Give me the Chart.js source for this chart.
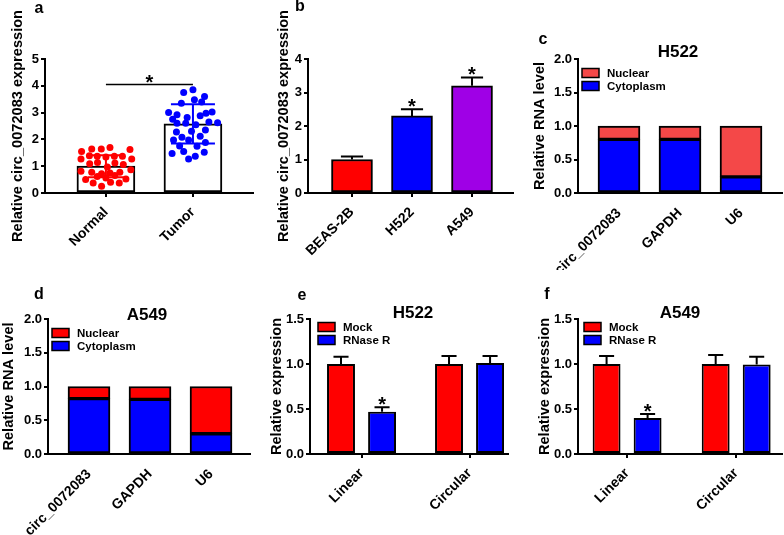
<!DOCTYPE html>
<html>
<head>
<meta charset="utf-8">
<script src="https://cdn.jsdelivr.net/npm/chart.js@4.4.1/dist/chart.umd.min.js"></script>
<style>
  body { margin: 0; background: #fff; width: 784px; height: 535px; position: relative; overflow: hidden; }
  canvas { position: absolute; }
</style>
</head>
<body>
<canvas id="panelA" width="260" height="270" style="left:0;top:0"></canvas>
<canvas id="panelB" width="260" height="270" style="left:255px;top:0"></canvas>
<canvas id="panelC" width="274" height="270" style="left:510px;top:0"></canvas>
<canvas id="panelD" width="260" height="265" style="left:0;top:270px"></canvas>
<canvas id="panelE" width="260" height="265" style="left:255px;top:270px"></canvas>
<canvas id="panelF" width="274" height="265" style="left:510px;top:270px"></canvas>
<script>
// ---- a: tissue samples (jitter = horizontal spread inside the bar, in bar half-widths)
const tissueGroups = ['Normal', 'Tumor'];
const normalValues = [1.55, 1.64, 1.64, 1.70, 1.62, 1.27, 1.39, 1.37, 1.34, 1.37, 1.37, 1.27,
  1.09, 1.14, 0.97, 1.12, 1.06, 0.81, 0.77, 0.72, 0.75, 0.77, 0.87,
  0.50, 0.62, 0.56, 0.65, 0.52, 0.37, 0.25, 0.40, 0.37];
const normalJitter = [-0.84, -0.49, -0.16, 0.14, 0.83, -0.86, -0.57, -0.30, 0.0, 0.29, 0.57, 0.89,
  -0.56, -0.29, 0.05, 0.31, 0.60, -0.86, -0.49, -0.15, 0.14, 0.48, 0.86,
  -0.70, -0.30, 0.0, 0.31, 0.69, -0.44, -0.15, 0.16, 0.46];
const tumorValues = [3.85, 3.75, 3.60, 3.48, 3.35, 3.40, 3.00, 2.92, 3.02, 2.88, 2.82, 2.75, 2.98,
  2.60, 2.55, 2.65, 2.62, 2.60, 2.28, 2.35, 2.30, 2.08, 1.98, 2.12, 1.98,
  1.75, 1.74, 1.88, 1.47, 1.55, 1.37, 1.52, 1.27];
const tumorJitter = [0.0, -0.32, 0.40, 0.05, -0.40, 0.30, -0.84, -0.55, 0.66, 0.25, -0.20, -0.70, 0.45,
  -0.55, 0.10, 0.55, 0.85, -0.25, -0.57, 0.43, -0.05, -0.38, -0.15, 0.25, -0.67,
  -0.46, 0.14, 0.43, -0.72, -0.32, 0.08, 0.39, -0.15];
const tissueMeans = [1.0, 2.58];
const tissueSD = [0.41, 0.73];

// ---- b: cell lines
const cellLines = ['BEAS-2B', 'H522', 'A549'];
const cellMeans = [1.0, 2.3, 3.2];
const cellErr = [0.09, 0.2, 0.25];
const cellSig = [false, true, true];

// ---- c, d: nuclear / cytoplasm fractions
const fractionGenes = ['circ_0072083', 'GAPDH', 'U6'];
const h522Cyto = [0.80, 0.80, 0.24];
const h522Nuclear = [0.20, 0.20, 0.76];
const a549Cyto = [0.82, 0.81, 0.30];
const a549Nuclear = [0.18, 0.19, 0.70];

// ---- e, f: RNase R
const rnaForms = ['Linear', 'Circular'];
const h522Mock = [1.0, 1.0];
const h522MockErr = [0.08, 0.09];
const h522RNase = [0.47, 1.01];
const h522RNaseErr = [0.05, 0.08];
const a549Mock = [1.0, 1.0];
const a549MockErr = [0.09, 0.10];
const a549RNase = [0.40, 0.995];
const a549RNaseErr = [0.045, 0.085];
const rnaseSig = [true, false];

const FONT = "'Liberation Sans', Arial, Helvetica, sans-serif";
Chart.defaults.font.family = FONT;
Chart.defaults.font.weight = 'bold';
Chart.defaults.color = '#000';
Chart.defaults.animation = false;
Chart.defaults.plugins.legend.display = false;
Chart.defaults.plugins.tooltip.enabled = false;

const RED = '#ff0000';
const BLUE = '#0000ff';

function drawStar(ctx, x, cy) {
  ctx.font = 'bold 20px ' + FONT;
  ctx.textAlign = 'center';
  ctx.textBaseline = 'alphabetic';
  ctx.fillStyle = '#000';
  ctx.fillText('*', x, cy + 11);
}

// error bars, stars, legend, titles
const extras = {
  id: 'extras',
  afterDatasetsDraw(chart, args, o) {
    const ctx = chart.ctx;
    const xs = chart.scales.x, ys = chart.scales.y;
    ctx.save();
    ctx.lineWidth = 2;

    (o.spread || []).forEach(s => {
      s.means.forEach((m, i) => {
        const cx = xs.getPixelForValue(i);
        const top = ys.getPixelForValue(m + s.sd[i]);
        const bot = ys.getPixelForValue(m - s.sd[i]);
        const half = s.caps[i] / 2;
        ctx.strokeStyle = s.colors[i];
        ctx.beginPath();
        ctx.moveTo(cx, top); ctx.lineTo(cx, bot);
        ctx.moveTo(cx - half, top); ctx.lineTo(cx + half, top);
        ctx.moveTo(cx - half, bot); ctx.lineTo(cx + half, bot);
        ctx.stroke();
      });
    });

    (o.errUp || []).forEach(e => {
      const meta = chart.getDatasetMeta(e.dataset);
      const values = chart.data.datasets[e.dataset].data;
      meta.data.forEach((bar, i) => {
        const yTop = ys.getPixelForValue(values[i].y + e.err[i]);
        const half = bar.width * 0.27;
        ctx.strokeStyle = '#000';
        ctx.beginPath();
        ctx.moveTo(bar.x, bar.y); ctx.lineTo(bar.x, yTop);
        ctx.moveTo(bar.x - half, yTop); ctx.lineTo(bar.x + half, yTop);
        ctx.stroke();
        if (e.sig && e.sig[i]) drawStar(ctx, bar.x, yTop - 7);
      });
    });

    if (o.sigLine) {
      const x1 = xs.getPixelForValue(o.sigLine.from);
      const x2 = xs.getPixelForValue(o.sigLine.to);
      const yy = ys.getPixelForValue(o.sigLine.at);
      ctx.strokeStyle = '#000';
      ctx.lineWidth = 1.5;
      ctx.beginPath();
      ctx.moveTo(x1, yy); ctx.lineTo(x2, yy);
      ctx.stroke();
      drawStar(ctx, (x1 + x2) / 2, yy - 6);
    }

    if (o.legend) {
      const lg = o.legend;
      ctx.font = 'bold 11.5px ' + FONT;
      ctx.textAlign = 'left';
      ctx.textBaseline = 'middle';
      lg.order.forEach((di, k) => {
        const ds = chart.data.datasets[di];
        const yy = chart.chartArea.top + lg.dy + k * 13;
        const xx = chart.chartArea.left + lg.dx;
        ctx.fillStyle = ds.backgroundColor;
        ctx.fillRect(xx, yy - 4.5, 17, 9);
        ctx.strokeStyle = '#000';
        ctx.lineWidth = 1.5;
        ctx.strokeRect(xx, yy - 4.5, 17, 9);
        ctx.fillStyle = '#000';
        ctx.fillText(ds.label, xx + 25, yy + 0.5);
      });
    }

    ctx.fillStyle = '#000';
    ctx.textAlign = 'center';
    ctx.textBaseline = 'middle';
    if (o.title) {
      ctx.font = 'bold 17px ' + FONT;
      ctx.fillText(o.title.text, o.title.x, o.title.y);
    }
    if (o.letter) {
      ctx.font = 'bold 16px ' + FONT;
      ctx.fillText(o.letter.text, o.letter.x, o.letter.y);
    }
    ctx.restore();
  }
};
Chart.register(extras);

function xAxis(labels, min, max, height, showTicks) {
  return {
    type: 'linear', min, max, offset: false, stacked: true,
    afterBuildTicks: s => { s.ticks = labels.map((_, i) => ({ value: i })); },
    afterFit: s => { s.height = height; },
    ticks: {
      autoSkip: false, minRotation: 45, maxRotation: 45, padding: showTicks ? 7 : 12,
      font: { size: 14, weight: 'bold' },
      callback: v => labels[v]
    },
    grid: { drawOnChartArea: false, drawTicks: showTicks, offset: false, tickLength: 4, color: '#000', lineWidth: 2 },
    border: { color: '#000', width: 2 }
  };
}

function yAxis(text, max, step, decimals, width, titlePad) {
  return {
    min: 0, max, stacked: true,
    afterFit: s => { s.width = width; },
    ticks: {
      stepSize: step, autoSkip: false, padding: 2,
      font: { size: 13, weight: 'bold' },
      callback: v => v.toFixed(decimals)
    },
    grid: { drawOnChartArea: false, tickLength: 4, color: '#000', lineWidth: 2 },
    border: { color: '#000', width: 2 },
    title: { display: true, text, font: { size: 14.6, weight: 'bold' }, padding: { top: titlePad, bottom: 0 } }
  };
}

function pts(vals) { return vals.map((v, i) => ({ x: i, y: v })); }

const BAR_HALF = 0.333;

// a
new Chart(document.getElementById('panelA'), {
  type: 'bar',
  data: {
    datasets: [
      { type: 'scatter', order: 0, data: normalValues.map((v, k) => ({ x: normalJitter[k] * BAR_HALF, y: v })),
        pointRadius: 3.5, pointBackgroundColor: RED, pointBorderWidth: 0 },
      { type: 'scatter', order: 0, data: tumorValues.map((v, k) => ({ x: 1 + tumorJitter[k] * BAR_HALF, y: v })),
        pointRadius: 3.5, pointBackgroundColor: BLUE, pointBorderWidth: 0 },
      { order: 1, data: pts(tissueMeans), backgroundColor: '#fff', borderColor: '#000',
        borderWidth: 2, borderSkipped: false, barThickness: 58 }
    ]
  },
  options: {
    responsive: false,
    layout: { padding: { top: 59, right: 7, left: 0, bottom: 0 } },
    scales: {
      x: Object.assign(xAxis(tissueGroups, -0.70, 1.69, 77, true), { stacked: false }),
      y: Object.assign(yAxis('Relative circ_0072083 expression', 5, 1, 0, 45, 9), { stacked: false })
    },
    plugins: {
      extras: {
        spread: [{ means: tissueMeans, sd: tissueSD, colors: [RED, BLUE], caps: [36, 44] }],
        sigLine: { from: 0, to: 1, at: 4.05 },
        letter: { text: 'a', x: 39, y: 9 }
      }
    }
  }
});

// b
new Chart(document.getElementById('panelB'), {
  type: 'bar',
  data: {
    datasets: [{
      data: pts(cellMeans), backgroundColor: [RED, BLUE, '#9f00e6'], borderColor: '#000',
      borderWidth: 2, borderSkipped: false, barThickness: 41
    }]
  },
  options: {
    responsive: false,
    layout: { padding: { top: 59, right: 2, left: 0, bottom: 0 } },
    scales: {
      x: xAxis(cellLines, -0.733, 2.683, 77, true),
      y: yAxis('Relative circ_0072083 expression', 4, 1, 0, 53, 20)
    },
    plugins: {
      extras: {
        errUp: [{ dataset: 0, err: cellErr, sig: cellSig }],
        letter: { text: 'b', x: 45, y: 7 }
      }
    }
  }
});

function fractionChart(id, cyto, nuclear, nucColor, cfg) {
  new Chart(document.getElementById(id), {
    type: 'bar',
    data: {
      datasets: [
        { label: 'Cytoplasm', data: pts(cyto), backgroundColor: BLUE, borderColor: '#000',
          borderWidth: 2, borderSkipped: false, barThickness: 42 },
        { label: 'Nuclear', data: pts(nuclear), backgroundColor: nucColor, borderColor: '#000',
          borderWidth: 2, borderSkipped: false, barThickness: 42 }
      ]
    },
    options: {
      responsive: false,
      layout: { padding: { top: cfg.top, right: cfg.right, left: 0, bottom: 0 } },
      scales: {
        x: xAxis(fractionGenes, cfg.min, cfg.max, cfg.xh, false),
        y: yAxis('Relative RNA level', 2, 0.5, 1, cfg.yw, cfg.titlePad)
      },
      plugins: {
        extras: {
          legend: { order: [1, 0], dx: 4, dy: 14 },
          title: cfg.title,
          letter: cfg.letter
        }
      }
    }
  });
}

fractionChart('panelC', h522Cyto, h522Nuclear, '#f44848', {
  top: 59, right: 2, min: -0.672, max: 2.672, xh: 77, yw: 68, titlePad: 21,
  title: { text: 'H522', x: 168, y: 52 }, letter: { text: 'c', x: 33, y: 40 }
});
fractionChart('panelD', a549Cyto, a549Nuclear, RED, {
  top: 49, right: 10, min: -0.672, max: 2.639, xh: 81, yw: 48, titlePad: 0,
  title: { text: 'A549', x: 147, y: 45 }, letter: { text: 'd', x: 39, y: 25 }
});

function rnaseChart(id, mock, mockErr, rnase, rnaseErr, cfg) {
  new Chart(document.getElementById(id), {
    type: 'bar',
    data: {
      datasets: [
        { label: 'Mock', data: pts(mock), backgroundColor: RED, borderColor: '#000',
          borderWidth: 2, borderSkipped: false },
        { label: 'RNase R', data: pts(rnase), backgroundColor: BLUE, borderColor: '#000',
          borderWidth: 2, borderSkipped: false }
      ]
    },
    options: {
      responsive: false,
      categoryPercentage: cfg.catPct,
      barPercentage: 0.68,
      layout: { padding: { top: 49, right: cfg.right, left: 0, bottom: 0 } },
      scales: {
        x: Object.assign(xAxis(rnaForms, cfg.min, cfg.max, 81, true), { stacked: false }),
        y: Object.assign(yAxis('Relative expression', 1.5, 0.5, 1, cfg.yw, cfg.titlePad), { stacked: false })
      },
      plugins: {
        extras: {
          errUp: [{ dataset: 0, err: mockErr }, { dataset: 1, err: rnaseErr, sig: rnaseSig }],
          legend: { order: [0, 1], dx: cfg.legendDx, dy: 8 },
          title: cfg.title,
          letter: cfg.letter
        }
      }
    }
  });
}

rnaseChart('panelE', h522Mock, h522MockErr, h522RNase, h522RNaseErr, {
  right: 7, min: -0.477, max: 1.356, yw: 55, titlePad: 13, catPct: 0.76, legendDx: 8,
  title: { text: 'H522', x: 158, y: 43 }, letter: { text: 'e', x: 47, y: 26 }
});
rnaseChart('panelF', a549Mock, a549MockErr, a549RNase, a549RNaseErr, {
  right: 2, min: -0.45, max: 1.42, yw: 68, titlePad: 26, catPct: 0.752, legendDx: 6,
  title: { text: 'A549', x: 170, y: 43 }, letter: { text: 'f', x: 37, y: 25 }
});
</script>
</body>
</html>
